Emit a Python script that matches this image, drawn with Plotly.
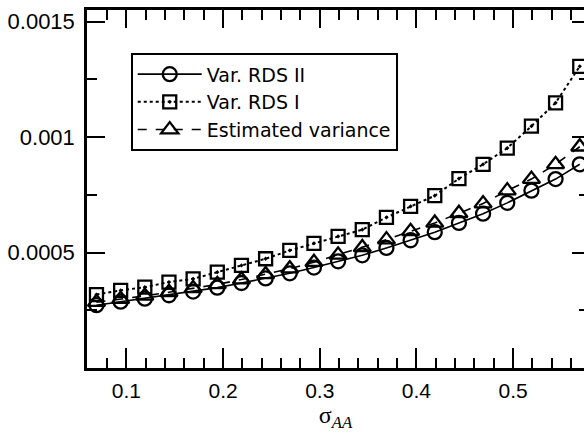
import plotly.graph_objects as go

sigma_aa = [0.069, 0.094, 0.119, 0.144, 0.169, 0.194, 0.219, 0.244, 0.269, 0.294,
            0.319, 0.344, 0.369, 0.394, 0.419, 0.444, 0.469, 0.494, 0.519, 0.544, 0.569]

var_rds_ii = [0.000272, 0.000287, 0.000300, 0.000315, 0.000331, 0.000348, 0.000368,
              0.000388, 0.000410, 0.000435, 0.000462, 0.000488, 0.000520, 0.000553,
              0.000588, 0.000628, 0.000668, 0.000715, 0.000768, 0.000818, 0.000882]

var_rds_i = [0.000318, 0.000336, 0.000350, 0.000372, 0.000386, 0.000415, 0.000444,
             0.000473, 0.000509, 0.000540, 0.000570, 0.000599, 0.000652, 0.000700,
             0.000746, 0.000820, 0.000882, 0.000952, 0.001047, 0.001148, 0.001306]

est_var = [0.000285, 0.000298, 0.000312, 0.000328, 0.000345, 0.000362, 0.000383,
           0.000405, 0.000430, 0.000458, 0.000490, 0.000522, 0.000556, 0.000592,
           0.000628, 0.000670, 0.000712, 0.000768, 0.000818, 0.000882, 0.000958]

series_names = ["Var. RDS II", "Var. RDS I", "Estimated variance"]

x_tickvals = [0.1, 0.2, 0.3, 0.4, 0.5]
x_ticktext = ["0.1", "0.2", "0.3", "0.4", "0.5"]
y_tickvals = [0.0005, 0.001, 0.0015]
y_ticktext = ["0.0005", "0.001", "0.0015"]
y_minorvals = [0.00025, 0.00075, 0.00125]

X_RANGE = [0.0592, 0.5734]
Y_RANGE = [0.0, 0.00155]

FONT = "Liberation Sans, Arial, Helvetica, sans-serif"
LEGEND_FONT = "DejaVu Sans, Verdana, sans-serif"

fig = go.Figure()
fig.add_trace(go.Scatter(
    x=sigma_aa, y=var_rds_ii, name=series_names[0], mode="lines+markers",
    line=dict(color="black", width=1.6),
    marker=dict(symbol="circle-open", size=14, color="black", line=dict(width=2.3)),
))
fig.add_trace(go.Scatter(
    x=sigma_aa, y=var_rds_i, name=series_names[1], mode="lines+markers",
    line=dict(color="black", width=2, dash="dot"),
    marker=dict(symbol="square-open-dot", size=13, color="black", line=dict(width=2.3)),
))
fig.add_trace(go.Scatter(
    x=sigma_aa, y=est_var, name=series_names[2], mode="lines+markers",
    line=dict(color="black", width=1.6, dash="dash"),
    marker=dict(symbol="triangle-up-open", size=15, color="black", line=dict(width=2.3)),
))

fig.update_layout(
    width=584, height=436,
    margin=dict(l=87, r=0, t=10, b=68, autoexpand=False),
    paper_bgcolor="white", plot_bgcolor="white",
    font=dict(family=FONT, size=22, color="black"),
    showlegend=True,
    legend=dict(
        x=0.088, y=0.879, xanchor="left", yanchor="top",
        bgcolor="white", bordercolor="black", borderwidth=2,
        font=dict(family=LEGEND_FONT, size=19, color="black"),
        itemwidth=64, tracegroupgap=0,
    ),
    xaxis=dict(
        range=X_RANGE, showgrid=False, zeroline=False, automargin=False,
        showline=True, linecolor="black", linewidth=2.5,
        ticks="inside", ticklen=20, tickwidth=2, tickcolor="black",
        tickmode="array", tickvals=x_tickvals, ticktext=x_ticktext,
        tickfont=dict(family=FONT, size=21), ticklabelstandoff=2,
        minor=dict(ticks="inside", ticklen=10, tickwidth=2, tickcolor="black",
                   tickmode="linear", tick0=0, dtick=0.02, showgrid=False),
        title=dict(text="σ<sub><i>AA</i></sub>",
                   font=dict(family="Liberation Serif, Times New Roman, serif", size=24),
                   standoff=2),
    ),
    xaxis2=dict(
        range=X_RANGE, overlaying="x", side="top", anchor="y", automargin=False,
        showgrid=False, zeroline=False, showticklabels=False,
        showline=True, linecolor="black", linewidth=2.5,
        ticks="inside", ticklen=18, tickwidth=2, tickcolor="black",
        tickmode="array", tickvals=x_tickvals,
        minor=dict(ticks="inside", ticklen=10, tickwidth=2, tickcolor="black",
                   tickmode="linear", tick0=0, dtick=0.02, showgrid=False),
    ),
    yaxis=dict(
        range=Y_RANGE, showgrid=False, zeroline=False, automargin=False,
        showline=True, linecolor="black", linewidth=2.5,
        ticks="inside", ticklen=18, tickwidth=2, tickcolor="black",
        tickmode="array", tickvals=y_tickvals, ticktext=y_ticktext,
        tickfont=dict(family=FONT, size=22), ticklabelstandoff=5,
        minor=dict(ticks="inside", ticklen=10, tickwidth=2, tickcolor="black",
                   tickmode="array", tickvals=y_minorvals, showgrid=False),
    ),
    yaxis2=dict(
        range=Y_RANGE, overlaying="y", side="right", anchor="x", automargin=False,
        showgrid=False, zeroline=False, showticklabels=False, showline=False,
        ticks="inside", ticklen=12, tickwidth=2, tickcolor="black",
        tickmode="array", tickvals=y_tickvals,
        minor=dict(ticks="inside", ticklen=5, tickwidth=2, tickcolor="black",
                   tickmode="array", tickvals=y_minorvals, showgrid=False),
    ),
)

# invisible helper trace so the overlay axes are drawn
fig.add_trace(go.Scatter(x=[None], y=[None], xaxis="x2", yaxis="y2",
                         showlegend=False, hoverinfo="skip"))

fig.write_html(
    "out.html",
    config={"displayModeBar": False},
    post_script="document.body.style.margin='0';document.body.style.overflow='hidden';",
)
